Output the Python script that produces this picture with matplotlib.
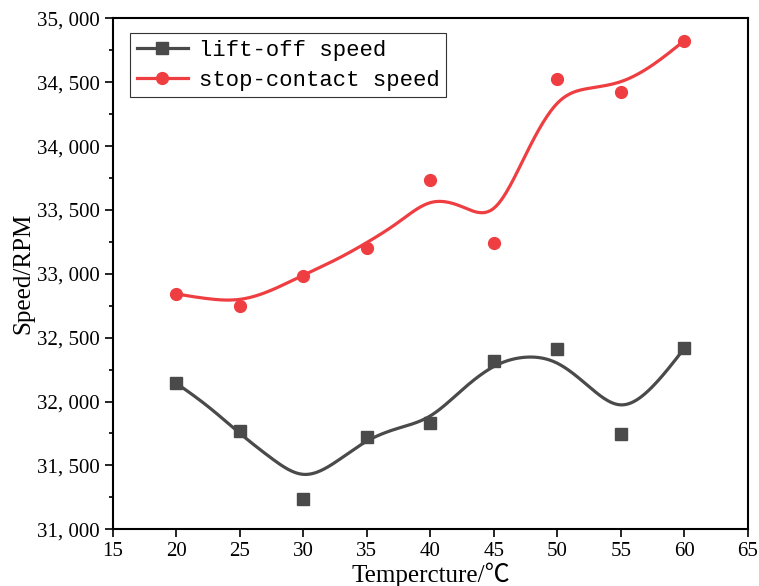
import numpy as np
import matplotlib
matplotlib.use('Agg')
import matplotlib.pyplot as plt
from matplotlib.ticker import MultipleLocator, FuncFormatter

# measured points
temps = [20, 25, 30, 35, 40, 45, 50, 55, 60]
lift_off = [32143, 31769, 31240, 31722, 31835, 32317, 32414, 31744, 32422]
stop_contact = [32842, 32748, 32983, 33200, 33734, 33244, 34522, 34423, 34825]

# fitted curves, read every 2.5 degC
fit_x = [20, 22.5, 25, 27.5, 30, 32.5, 35, 37.5, 40, 42.5, 45, 47.5, 50, 52.5, 55, 57.5, 60]
lift_fit = [32143, 31960, 31751, 31555, 31430, 31524, 31690, 31792, 31888,
            32091, 32274, 32347, 32300, 32117, 31974, 32117, 32416]
stop_fit = [32842, 32805, 32800, 32873, 32990, 33108, 33245, 33405, 33557,
            33525, 33513, 33930, 34335, 34452, 34504, 34634, 34825]

RED = '#ef3e42'
GRAY = '#4a4a4a'


def natural_spline(x, y, n=400):
    x = np.asarray(x, float)
    y = np.asarray(y, float)
    k = len(x)
    h = np.diff(x)
    A = np.zeros((k, k))
    b = np.zeros(k)
    A[0, 0] = A[-1, -1] = 1.0
    for i in range(1, k - 1):
        A[i, i - 1] = h[i - 1]
        A[i, i] = 2 * (h[i - 1] + h[i])
        A[i, i + 1] = h[i]
        b[i] = 6 * ((y[i + 1] - y[i]) / h[i] - (y[i] - y[i - 1]) / h[i - 1])
    m = np.linalg.solve(A, b)
    xs = np.linspace(x[0], x[-1], n)
    idx = np.clip(np.searchsorted(x, xs) - 1, 0, k - 2)
    x0, x1 = x[idx], x[idx + 1]
    hh = x1 - x0
    t0 = x1 - xs
    t1 = xs - x0
    ys = (m[idx] * t0 ** 3 + m[idx + 1] * t1 ** 3) / (6 * hh) \
        + (y[idx] / hh - m[idx] * hh / 6) * t0 \
        + (y[idx + 1] / hh - m[idx + 1] * hh / 6) * t1
    return xs, ys


plt.rcParams['font.family'] = ['Liberation Serif', 'Noto Sans CJK SC']

fig = plt.figure(figsize=(7.59, 5.86), dpi=100)
ax = fig.add_axes([113 / 759, 56.7 / 586, 634.7 / 759, 511 / 586])

xs, ys = natural_spline(fit_x, lift_fit)
ax.plot(xs, ys, color=GRAY, lw=2.3, zorder=2)
xs, ys = natural_spline(fit_x, stop_fit)
ax.plot(xs, ys, color=RED, lw=2.3, zorder=2)

ax.plot(temps, lift_off, ls='none', marker='s', ms=8, color=GRAY, zorder=3)
ax.plot(temps, stop_contact, ls='none', marker='o', ms=8.5, color=RED, zorder=3)

# legend handles: line + marker
h1, = ax.plot([], [], color=GRAY, lw=2.3, marker='s', ms=8)
h2, = ax.plot([], [], color=RED, lw=2.3, marker='o', ms=8.5)
leg = ax.legend([h1, h2], ['lift-off speed', 'stop-contact speed'],
                loc='upper left', bbox_to_anchor=(0.027, 0.971), borderaxespad=0,
                prop={'family': 'Liberation Mono', 'size': 16},
                handlelength=2.3, handletextpad=0.5, borderpad=0.3,
                labelspacing=0.4, fancybox=False, framealpha=1)
leg.get_frame().set_edgecolor('#333333')
leg.get_frame().set_linewidth(0.8)

ax.set_xlim(15, 65)
ax.set_ylim(31000, 35000)
ax.xaxis.set_major_locator(MultipleLocator(5))
ax.yaxis.set_major_locator(MultipleLocator(500))
ax.yaxis.set_minor_locator(MultipleLocator(250))
ax.yaxis.set_major_formatter(FuncFormatter(lambda v, p: '{:,}'.format(int(v)).replace(',', ', ')))

ax.tick_params(which='major', direction='out', length=6, width=1.2, labelsize=15)
ax.tick_params(which='minor', direction='out', length=3, width=1.2)
for s in ax.spines.values():
    s.set_linewidth(1.5)

ax.set_xlabel('Tempercture/℃', fontsize=18, labelpad=1)
ax.set_ylabel('Speed/RPM', fontsize=18, labelpad=2)

fig.savefig('out.png', dpi=100)
